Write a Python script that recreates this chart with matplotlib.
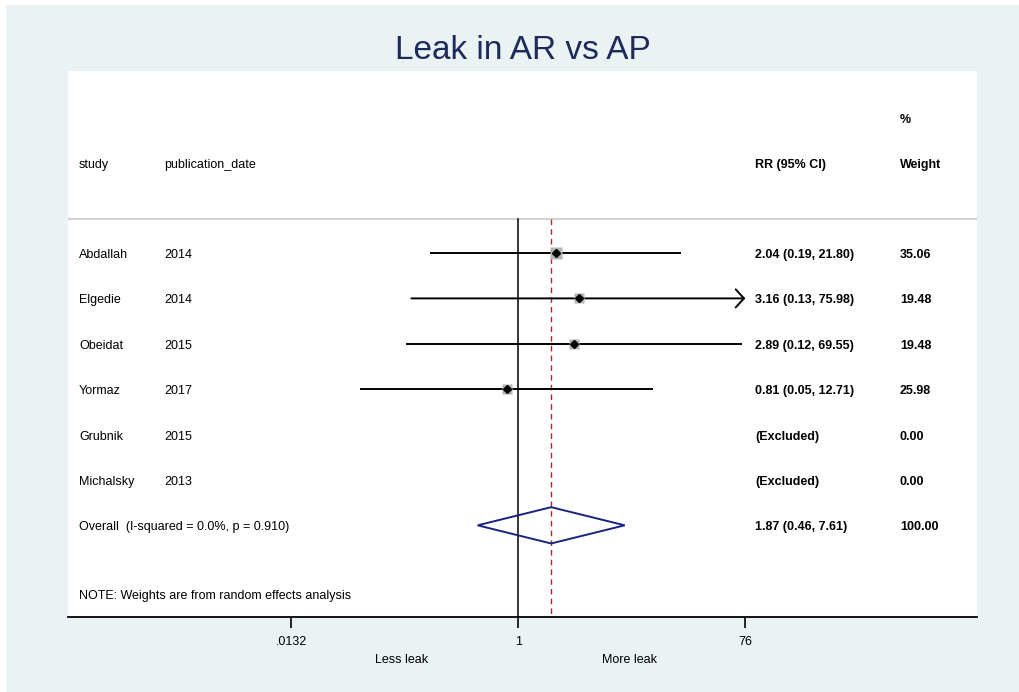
import matplotlib
matplotlib.use("Agg")
import matplotlib.pyplot as plt
import matplotlib.transforms as mtransforms
from matplotlib.patches import Polygon, Rectangle
from matplotlib.ticker import NullLocator
import numpy as np

plt.rcParams['font.family'] = ['Liberation Sans', 'DejaVu Sans']

# study data
studies = ["Abdallah", "Elgedie", "Obeidat", "Yormaz", "Grubnik", "Michalsky"]
years = ["2014", "2014", "2015", "2017", "2015", "2013"]
rr = [2.04, 3.16, 2.89, 0.81, np.nan, np.nan]
ci_lo = [0.19, 0.13, 0.12, 0.05, np.nan, np.nan]
ci_hi = [21.80, 75.98, 69.55, 12.71, np.nan, np.nan]
weights = [35.06, 19.48, 19.48, 25.98, 0.00, 0.00]

overall_rr = 1.87
overall_lo = 0.46
overall_hi = 7.61
overall_label = "Overall  (I-squared = 0.0%, p = 0.910)"

xtick_vals = [0.0132, 1, 76]
xtick_labels = [".0132", "1", "76"]

navy = "#1c2b59"
bg = "#eaf2f3"

fig = plt.figure(figsize=(10.19, 6.92), dpi=100)
fig.patch.set_facecolor("white")
fig.patches.append(Rectangle((6 / 1019, 0), 1, 1 - 5 / 692, transform=fig.transFigure,
                             facecolor=bg, edgecolor="none", zorder=-10))

# plot region (white) in pixels: x 68..977, y 71..617
ax = fig.add_axes([68 / 1019, (692 - 617) / 692, 909 / 1019, (617 - 71) / 692])
ax.set_facecolor("white")
ax.set_xscale("log")
ax.set_xlim(10 ** -3.731, 10 ** 3.800)
ax.set_ylim(8.02, -4.01)
for s in ["top", "left", "right"]:
    ax.spines[s].set_visible(False)
ax.spines["bottom"].set_linewidth(1.3)
ax.set_yticks([])
ax.set_xticks(xtick_vals)
ax.set_xticklabels(xtick_labels)
ax.xaxis.set_minor_locator(NullLocator())
ax.tick_params(axis="x", direction="out", length=8, width=1.2, pad=6, labelsize=9)

n = len(studies)
ov_row = n
header_line = -0.74
base = 0.11  # baseline offset of row text

# header line, null line, overall line
ax.axhline(header_line, color="#d3d3d3", lw=1.6, zorder=1)
ax.plot([1, 1], [header_line, 8.02], color="black", lw=1.1, zorder=2)
ax.plot([overall_rr, overall_rr], [header_line, 8.02], color="#a8283a", lw=1.0,
        dashes=(4, 3), zorder=2)

# study estimates
for i in range(n):
    if np.isnan(rr[i]):
        continue
    if ci_hi[i] > 0.99 * xtick_vals[-1]:
        ax.annotate("", xy=(xtick_vals[-1], i), xytext=(ci_lo[i], i),
                    arrowprops=dict(arrowstyle="->,head_length=0.6,head_width=0.65",
                                    lw=1.4, color="black", shrinkA=0, shrinkB=0),
                    zorder=3)
    else:
        ax.plot([ci_lo[i], ci_hi[i]], [i, i], color="black", lw=1.4, zorder=3)
    ax.plot(rr[i], i, marker="s", markersize=1.5 * np.sqrt(weights[i]),
            color="#b4b4b4", mec="none", zorder=4)
    ax.plot(rr[i], i, marker="D", markersize=3.6, color="black", zorder=5)

# overall diamond
h = 0.4
diamond = Polygon([(overall_lo, ov_row), (overall_rr, ov_row - h),
                   (overall_hi, ov_row), (overall_rr, ov_row + h)],
                  closed=True, fill=False, edgecolor="#1a2480", lw=1.4, zorder=4)
ax.add_patch(diamond)

# text columns
tr = mtransforms.blended_transform_factory(ax.transAxes, ax.transData)
col_study = 11 / 909
col_year = 96 / 909
col_rr = 687 / 909
col_wt = 832 / 909
fs = 9

ax.text(col_wt, -2.97 + base, "%", transform=tr, fontsize=fs, fontweight="bold", va="baseline")
ax.text(col_study, -1.98 + base, "study", transform=tr, fontsize=fs, va="baseline")
ax.text(col_year, -1.98 + base, "publication_date", transform=tr, fontsize=fs, va="baseline")
ax.text(col_rr, -1.98 + base, "RR (95% CI)", transform=tr, fontsize=fs, fontweight="bold", va="baseline")
ax.text(col_wt, -1.98 + base, "Weight", transform=tr, fontsize=fs, fontweight="bold", va="baseline")

for i in range(n):
    ax.text(col_study, i + base, studies[i], transform=tr, fontsize=fs, va="baseline")
    ax.text(col_year, i + base, years[i], transform=tr, fontsize=fs, va="baseline")
    if np.isnan(rr[i]):
        est = "(Excluded)"
    else:
        est = f"{rr[i]:.2f} ({ci_lo[i]:.2f}, {ci_hi[i]:.2f})"
    ax.text(col_rr, i + base, est, transform=tr, fontsize=fs, fontweight="bold", va="baseline")
    ax.text(col_wt, i + base, f"{weights[i]:.2f}", transform=tr, fontsize=fs,
            fontweight="bold", va="baseline")

ax.text(col_study, ov_row + base, overall_label, transform=tr, fontsize=fs, va="baseline")
ax.text(col_rr, ov_row + base,
        f"{overall_rr:.2f} ({overall_lo:.2f}, {overall_hi:.2f})",
        transform=tr, fontsize=fs, fontweight="bold", va="baseline")
ax.text(col_wt, ov_row + base, f"{sum(weights):.2f}", transform=tr, fontsize=fs,
        fontweight="bold", va="baseline")

ax.text(col_study, 7.51 + base, "NOTE: Weights are from random effects analysis",
        transform=tr, fontsize=fs, va="baseline")

# favours labels under the axis
ax.text(333.5 / 909, 8.92 + base, "Less leak", transform=tr, fontsize=fs, ha="center",
        va="baseline", clip_on=False)
ax.text(562 / 909, 8.92 + base, "More leak", transform=tr, fontsize=fs, ha="center",
        va="baseline", clip_on=False)

fig.text(522.5 / 1019, 1 - 59 / 692, "Leak in AR vs AP", ha="center", va="baseline",
         fontsize=24, color=navy)

fig.savefig("out.png", dpi=100, facecolor=fig.get_facecolor())
